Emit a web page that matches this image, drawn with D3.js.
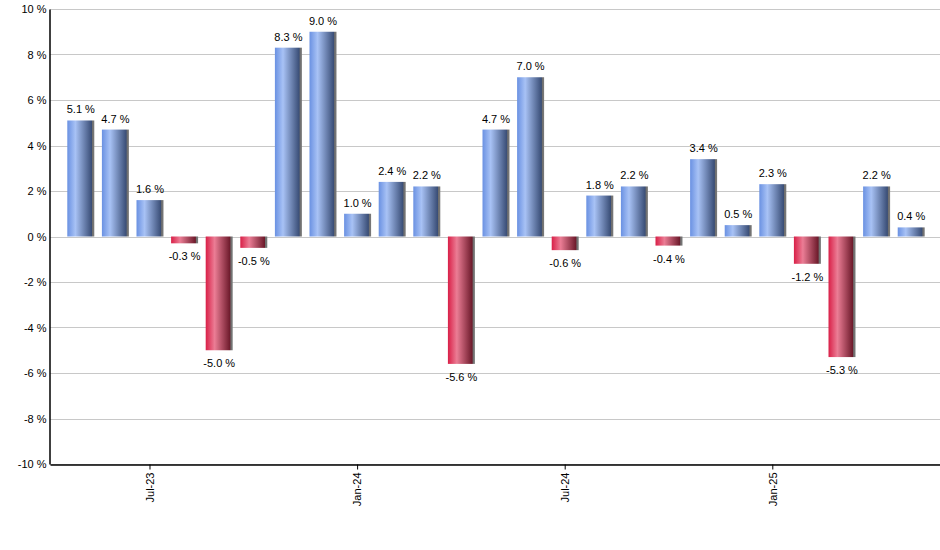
<!DOCTYPE html>
<html>
<head>
<meta charset="utf-8">
<script src="https://cdn.jsdelivr.net/npm/d3@7"></script>
<style>
  body { margin: 0; background: #fff; }
  svg text { font-family: "Liberation Sans", Arial, sans-serif; font-size: 11px; fill: #000; }
</style>
</head>
<body>
<div id="chart"></div>
<script>
// monthly returns, May-23 .. May-25
const months = ["May-23","Jun-23","Jul-23","Aug-23","Sep-23","Oct-23","Nov-23","Dec-23",
  "Jan-24","Feb-24","Mar-24","Apr-24","May-24","Jun-24","Jul-24","Aug-24","Sep-24","Oct-24",
  "Nov-24","Dec-24","Jan-25","Feb-25","Mar-25","Apr-25","May-25"];
const returns = [5.1, 4.7, 1.6, -0.3, -5.0, -0.5, 8.3, 9.0, 1.0, 2.4, 2.2, -5.6, 4.7, 7.0,
  -0.6, 1.8, 2.2, -0.4, 3.4, 0.5, 2.3, -1.2, -5.3, 2.2, 0.4];
const xTickLabels = ["Jul-23", "Jan-24", "Jul-24", "Jan-25"];
const yTicks = [-10, -8, -6, -4, -2, 0, 2, 4, 6, 8, 10];

const width = 940, height = 550;
const margin = { top: 9, right: -2, bottom: 86, left: 50 };

const svg = d3.select("#chart").append("svg")
  .attr("width", width)
  .attr("height", height);

// gradients for the bars
const defs = svg.append("defs");
function addGrad(id, stops) {
  const g = defs.append("linearGradient").attr("id", id)
    .attr("x1", 0).attr("x2", 1).attr("y1", 0).attr("y2", 0);
  stops.forEach(s => g.append("stop").attr("offset", s[0]).attr("stop-color", s[1]));
}
addGrad("gBlue", [[0, "#6a91e2"], [0.3, "#a8c2f5"], [0.9, "#3a4e77"], [0.93, "#6e6e6e"], [1, "#7a7a7a"]]);
addGrad("gRed", [[0, "#d91f47"], [0.33, "#eb7d95"], [0.9, "#6d1a2b"], [0.93, "#6e6e6e"], [1, "#7a7a7a"]]);

const x = d3.scaleBand()
  .domain(months)
  .range([margin.left, width - margin.right])
  .paddingInner(0.22)
  .paddingOuter(0.5);

const y = d3.scaleLinear()
  .domain([-10, 10])
  .range([height - margin.bottom, margin.top]);

// grid
svg.append("g")
  .selectAll("line")
  .data(yTicks)
  .join("line")
  .attr("x1", margin.left)
  .attr("x2", width - margin.right)
  .attr("y1", d => Math.round(y(d)) + 0.5)
  .attr("y2", d => Math.round(y(d)) + 0.5)
  .attr("stroke", "#c8c8c8")
  .attr("stroke-width", 1);

// bars
svg.append("g")
  .selectAll("rect")
  .data(returns)
  .join("rect")
  .attr("x", (d, i) => x(months[i]))
  .attr("width", x.bandwidth())
  .attr("y", d => y(Math.max(0, d)))
  .attr("height", d => Math.abs(y(d) - y(0)))
  .attr("fill", d => d >= 0 ? "url(#gBlue)" : "url(#gRed)");

// value labels
svg.append("g")
  .selectAll("text")
  .data(returns)
  .join("text")
  .attr("x", (d, i) => x(months[i]) + x.bandwidth() / 2)
  .attr("y", d => d >= 0 ? y(d) - 7 : y(d) + 17)
  .attr("text-anchor", "middle")
  .text(d => d.toFixed(1) + " %");

// y axis
const yAxis = svg.append("g")
  .attr("transform", "translate(" + (margin.left - 0.5) + ",0)")
  .call(d3.axisLeft(y).tickValues(yTicks).tickSize(0).tickPadding(3).tickFormat(d => d + " %"));
yAxis.select(".domain").attr("stroke", "#000").attr("stroke-width", 1.5);
yAxis.selectAll("text").attr("font-size", null).attr("font-family", null);

// x axis
const xAxis = svg.append("g")
  .attr("transform", "translate(0," + (y(-10) + 0.5) + ")")
  .call(d3.axisBottom(x).tickValues(xTickLabels).tickSizeOuter(0).tickSizeInner(5));
xAxis.select(".domain").attr("stroke", "#000").attr("stroke-width", 1.5);
xAxis.selectAll("line").attr("stroke", "#000");
xAxis.selectAll("text")
  .attr("font-size", null).attr("font-family", null)
  .attr("transform", "rotate(-90)")
  .attr("text-anchor", "end")
  .attr("x", -8)
  .attr("y", 0)
  .attr("dy", "0.35em");
</script>
</body>
</html>
